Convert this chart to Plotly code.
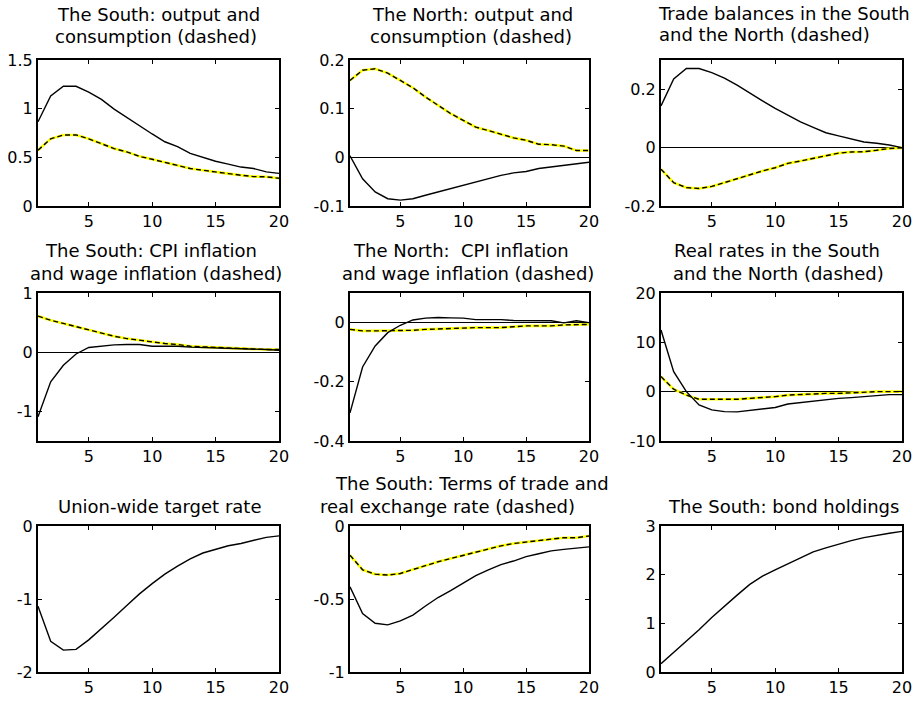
import plotly.graph_objects as go

# ---------------- data ----------------
periods = list(range(1, 21))

south_output = [0.865, 1.13, 1.23, 1.23, 1.17, 1.095, 0.995, 0.91, 0.82, 0.74, 0.66, 0.61, 0.54, 0.50, 0.46, 0.43, 0.40, 0.385, 0.35, 0.335]
south_consumption = [0.573, 0.69, 0.73, 0.73, 0.69, 0.64, 0.59, 0.556, 0.51, 0.48, 0.446, 0.415, 0.385, 0.367, 0.347, 0.333, 0.316, 0.302, 0.30, 0.285]
north_output = [0.003, -0.044, -0.071, -0.085, -0.088, -0.085, -0.078, -0.071, -0.064, -0.058, -0.051, -0.044, -0.037, -0.032, -0.029, -0.023, -0.020, -0.016, -0.013, -0.010]
north_consumption = [0.158, 0.179, 0.182, 0.173, 0.158, 0.143, 0.124, 0.107, 0.09, 0.076, 0.062, 0.055, 0.047, 0.040, 0.035, 0.027, 0.026, 0.023, 0.014, 0.014]
south_trade_balance = [0.143, 0.235, 0.271, 0.271, 0.257, 0.238, 0.214, 0.186, 0.160, 0.134, 0.111, 0.088, 0.069, 0.051, 0.040, 0.029, 0.019, 0.015, 0.009, 0.0]
north_trade_balance = [-0.074, -0.12, -0.137, -0.14, -0.133, -0.12, -0.106, -0.092, -0.08, -0.069, -0.054, -0.046, -0.037, -0.029, -0.019, -0.015, -0.014, -0.009, -0.003, -0.001]
south_cpi_inflation = [-1.09, -0.50, -0.22, -0.03, 0.08, 0.10, 0.124, 0.13, 0.13, 0.10, 0.10, 0.10, 0.085, 0.08, 0.073, 0.068, 0.062, 0.05, 0.045, 0.034]
south_wage_inflation = [0.61, 0.54, 0.486, 0.43, 0.37, 0.32, 0.27, 0.23, 0.20, 0.175, 0.147, 0.13, 0.10, 0.09, 0.08, 0.073, 0.062, 0.05, 0.045, 0.045]
north_cpi_inflation = [-0.305, -0.15, -0.079, -0.034, -0.009, 0.009, 0.015, 0.017, 0.016, 0.015, 0.01, 0.01, 0.01, 0.007, 0.006, 0.006, 0.006, -0.001, 0.006, 0.0]
north_wage_inflation = [-0.023, -0.028, -0.028, -0.028, -0.028, -0.026, -0.023, -0.021, -0.021, -0.018, -0.017, -0.017, -0.017, -0.014, -0.011, -0.011, -0.011, -0.008, -0.006, -0.006]
south_real_rate = [12.5, 4.05, 0.0, -2.7, -3.7, -4.05, -4.1, -3.85, -3.6, -3.2, -2.5, -2.2, -2.0, -1.7, -1.35, -1.2, -1.0, -0.7, -0.6, -0.6]
north_real_rate = [3.05, 0.5, -0.7, -1.55, -1.55, -1.55, -1.55, -1.35, -1.2, -1.0, -0.7, -0.55, -0.55, -0.35, -0.35, -0.2, -0.15, 0.0, 0.0, 0.0]
target_rate = [-1.10, -1.58, -1.70, -1.69, -1.56, -1.41, -1.25, -1.09, -0.93, -0.79, -0.66, -0.55, -0.45, -0.37, -0.32, -0.27, -0.24, -0.20, -0.155, -0.135]
terms_of_trade = [-0.416, -0.60, -0.666, -0.677, -0.65, -0.61, -0.548, -0.49, -0.443, -0.39, -0.34, -0.30, -0.264, -0.24, -0.21, -0.19, -0.17, -0.16, -0.152, -0.143]
real_exchange_rate = [-0.2, -0.30, -0.33, -0.336, -0.325, -0.298, -0.275, -0.245, -0.223, -0.2, -0.177, -0.155, -0.136, -0.12, -0.109, -0.098, -0.086, -0.08, -0.08, -0.068]
bond_holdings = [0.17, 0.40, 0.63, 0.87, 1.12, 1.36, 1.58, 1.8, 1.97, 2.1, 2.22, 2.35, 2.47, 2.55, 2.63, 2.70, 2.76, 2.81, 2.85, 2.89]

x_tick_values = [5, 10, 15, 20]
x_tick_labels = ["5", "10", "15", "20"]

y_tick_values = [
    [0, 0.5, 1, 1.5],
    [-0.1, 0, 0.1, 0.2],
    [-0.2, 0, 0.2],
    [-1, 0, 1],
    [-0.4, -0.2, 0],
    [-10, 0, 10, 20],
    [-2, -1, 0],
    [-1, -0.5, 0],
    [0, 1, 2, 3],
]
y_tick_labels = [
    ["0", "0.5", "1", "1.5"],
    ["-0.1", "0", "0.1", "0.2"],
    ["-0.2", "0", "0.2"],
    ["-1", "0", "1"],
    ["-0.4", "-0.2", "0"],
    ["-10", "0", "10", "20"],
    ["-2", "-1", "0"],
    ["-1", "-0.5", "0"],
    ["0", "1", "2", "3"],
]
y_ranges = [
    [0, 1.5], [-0.1, 0.2], [-0.2, 0.3],
    [-1.5, 1], [-0.4, 0.1], [-10, 20],
    [-2, 0], [-1, 0], [0, 3],
]

panel_titles = [
    ["The South: output and", "consumption (dashed)"],
    ["The North: output and", "consumption (dashed)"],
    ["Trade balances in the South", "and the North (dashed)"],
    ["The South: CPI inflation", "and wage inflation (dashed)"],
    ["The North:\u00a0 CPI inflation", "and wage inflation (dashed)"],
    ["Real rates in the South", "and the North (dashed)"],
    ["Union-wide target rate"],
    ["The South: Terms of trade and", "real exchange rate (dashed)"],
    ["The South: bond holdings"],
]

# (solid series, dashed series or None) per panel
panel_series = [
    (south_output, south_consumption),
    (north_output, north_consumption),
    (south_trade_balance, north_trade_balance),
    (south_cpi_inflation, south_wage_inflation),
    (north_cpi_inflation, north_wage_inflation),
    (south_real_rate, north_real_rate),
    (target_rate, None),
    (terms_of_trade, real_exchange_rate),
    (bond_holdings, None),
]

# ---------------- layout geometry (pixels) ----------------
W, H = 914, 702
cols_px = [(38, 279), (350, 589), (661, 902)]
rows_px = [(60, 206), (293, 441), (526, 672)]
# title line positions: (center x, baseline y) per line
title_pos = [
    [(158, 20.7), (156, 43.3)],
    [(472.5, 20.7), (471, 42.7)],
    [(783.5, 19.5), (764.5, 41.0)],
    [(150.5, 256.7), (155.5, 280)],
    [(460.5, 256.7), (468, 280)],
    [(777, 256.7), (778, 280)],
    [(159, 513.3)],
    [(471.5, 490), (447.5, 512.7)],
    [(783.5, 513.3)],
]

FONT = "DejaVu Sans"
fig = go.Figure()
layout = dict(
    width=W, height=H,
    margin=dict(l=0, r=0, t=0, b=0, pad=0, autoexpand=False),
    paper_bgcolor="white", plot_bgcolor="white",
    showlegend=False,
    template="simple_white",
    font=dict(family=FONT, size=16, color="black"),
)
annotations = []

for i in range(9):
    r, c = divmod(i, 3)
    xa = "x" if i == 0 else f"x{i+1}"
    ya = "y" if i == 0 else f"y{i+1}"
    solid, dashed = panel_series[i]
    if dashed is not None:
        fig.add_trace(go.Scatter(x=periods, y=dashed, mode="lines", xaxis=xa, yaxis=ya,
                                 line=dict(color="#ffff00", width=2.6), hoverinfo="skip"))
        fig.add_trace(go.Scatter(x=periods, y=dashed, mode="lines", xaxis=xa, yaxis=ya,
                                 line=dict(color="black", width=1.4, dash="5px,3px")))
    fig.add_trace(go.Scatter(x=periods, y=solid, mode="lines", xaxis=xa, yaxis=ya,
                             line=dict(color="black", width=1.4)))

    x0, x1 = cols_px[c]
    y0, y1 = rows_px[r]
    common = dict(showline=True, linecolor="black", linewidth=2, mirror="ticks",
                  ticks="inside", ticklen=4, tickwidth=1, tickcolor="black",
                  automargin=False,
                  showgrid=False, tickfont=dict(family=FONT, size=16, color="black"))
    kx = "xaxis" if i == 0 else f"xaxis{i+1}"
    ky = "yaxis" if i == 0 else f"yaxis{i+1}"
    layout[kx] = dict(domain=[x0 / W, x1 / W], range=[1, 20], anchor=ya,
                      tickmode="array", tickvals=x_tick_values, ticktext=x_tick_labels,
                      zeroline=False, **common)
    layout[ky] = dict(domain=[1 - y1 / H, 1 - y0 / H], range=y_ranges[i], anchor=xa,
                      tickmode="array", tickvals=y_tick_values[i], ticktext=y_tick_labels[i],
                      zeroline=True, zerolinecolor="black", zerolinewidth=1,
                      **common)

    for text, (cx, base) in zip(panel_titles[i], title_pos[i]):
        annotations.append(dict(
            text=text, xref="paper", yref="paper",
            x=cx / W, y=1 - (base - 6.3) / H,
            xanchor="center", yanchor="middle", showarrow=False,
            font=dict(family=FONT, size=18, color="black"),
        ))

layout["annotations"] = annotations
fig.update_layout(**layout)
fig.write_html(
    "out.html",
    config={"displayModeBar": False},
    post_script="document.body.style.margin='0';document.body.style.overflow='hidden';",
)
